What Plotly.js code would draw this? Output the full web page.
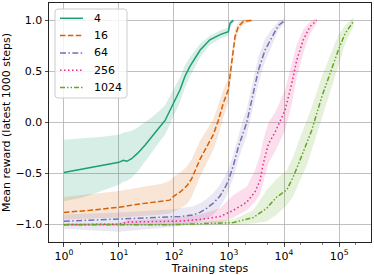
<!DOCTYPE html>
<html>
<head>
<meta charset="utf-8">
<script src="https://cdn.plot.ly/plotly-3.0.1.min.js"></script>
<style>html,body{margin:0;padding:0;background:#fff;}#chart{width:374px;height:275px;}</style>
</head>
<body>
<div id="chart"></div>
<script>
// Series labels
var seriesNames = ["4", "16", "64", "256", "1024"];

// Series "4"
var x4  = [1, 2, 3, 5, 7, 10, 12, 14, 17, 22, 30, 39, 56, 69, 97, 129, 158, 195, 300, 450, 690, 975, 1040, 1200];
var y4  = [-0.49, -0.46, -0.44, -0.42, -0.41, -0.39, -0.37, -0.38, -0.355, -0.30, -0.22, -0.14, -0.04, 0.02, 0.19, 0.32, 0.45, 0.55, 0.71, 0.81, 0.86, 0.89, 0.97, 1.0];
var hi4 = [-0.17, -0.16, -0.15, -0.14, -0.13, -0.12, -0.10, -0.09, -0.08, -0.05, 0.0, 0.05, 0.12, 0.17, 0.32, 0.44, 0.56, 0.64, 0.77, 0.85, 0.90, 0.93, 0.99, 1.02];
var lo4 = [-0.77, -0.74, -0.71, -0.67, -0.64, -0.61, -0.58, -0.57, -0.54, -0.48, -0.38, -0.30, -0.18, -0.12, 0.05, 0.20, 0.34, 0.45, 0.64, 0.76, 0.82, 0.85, 0.93, 0.98];

// Series "16"
var x16  = [1, 3, 10, 22, 60, 84, 100, 130, 172, 210, 297, 518, 640, 790, 970, 1040, 1120, 1285, 1480, 1820, 2590];
var y16  = [-0.88, -0.86, -0.83, -0.80, -0.77, -0.76, -0.72, -0.68, -0.62, -0.55, -0.36, -0.12, 0.02, 0.19, 0.32, 0.45, 0.61, 0.84, 0.94, 0.99, 1.0];
var hi16 = [-0.73, -0.70, -0.67, -0.64, -0.60, -0.57, -0.53, -0.49, -0.43, -0.36, -0.18, 0.03, 0.17, 0.32, 0.43, 0.55, 0.70, 0.90, 0.98, 1.01, 1.01];
var lo16 = [-0.95, -0.94, -0.93, -0.92, -0.90, -0.89, -0.87, -0.84, -0.80, -0.73, -0.53, -0.27, -0.13, 0.05, 0.20, 0.34, 0.50, 0.76, 0.89, 0.96, 0.99];

// Series "64"
var x64  = [1, 10, 100, 130, 224, 297, 393, 518, 686, 880, 1000, 1200, 1480, 1820, 2100, 2590, 3410, 4520, 5560, 7880, 10430];
var y64  = [-0.967, -0.948, -0.925, -0.92, -0.905, -0.88, -0.84, -0.79, -0.72, -0.62, -0.55, -0.42, -0.24, -0.09, 0.0, 0.22, 0.51, 0.71, 0.80, 0.95, 1.0];
var hi64 = [-0.90, -0.88, -0.85, -0.84, -0.82, -0.79, -0.75, -0.69, -0.61, -0.51, -0.44, -0.31, -0.12, 0.04, 0.13, 0.36, 0.64, 0.82, 0.89, 0.99, 1.02];
var lo64 = [-1.04, -1.07, -1.02, -1.01, -0.99, -0.97, -0.94, -0.90, -0.83, -0.73, -0.66, -0.54, -0.36, -0.22, -0.13, 0.08, 0.38, 0.60, 0.71, 0.90, 0.98];

// Series "256"
var x256  = [1, 10, 15, 100, 130, 297, 686, 1200, 2100, 2960, 3660, 4200, 5200, 6940, 10430, 13800, 17000, 22400, 29700, 39300];
var y256  = [-1.0, -0.995, -0.975, -0.97, -0.965, -0.95, -0.92, -0.86, -0.78, -0.68, -0.57, -0.40, -0.21, -0.09, 0.12, 0.38, 0.61, 0.81, 0.94, 1.0];
var hi256 = [-0.99, -0.985, -0.955, -0.94, -0.93, -0.90, -0.84, -0.71, -0.63, -0.47, -0.32, -0.17, 0.0, 0.10, 0.32, 0.56, 0.76, 0.91, 0.99, 1.02];
var lo256 = [-1.01, -1.005, -0.995, -0.995, -0.99, -0.98, -0.99, -0.93, -0.86, -0.78, -0.70, -0.60, -0.40, -0.28, -0.08, 0.18, 0.44, 0.68, 0.87, 0.97];

// Series "1024"
var x1024  = [1, 100, 1200, 2770, 4840, 7370, 11200, 14760, 19500, 25900, 31900, 48400, 68600, 97100, 128500, 182000];
var y1024  = [-1.0, -1.0, -0.98, -0.93, -0.84, -0.73, -0.66, -0.53, -0.37, -0.21, -0.075, 0.25, 0.48, 0.71, 0.87, 0.99];
var hi1024 = [-0.99, -0.99, -0.95, -0.86, -0.66, -0.55, -0.47, -0.33, -0.15, 0.02, 0.15, 0.45, 0.66, 0.86, 0.95, 1.03];
var lo1024 = [-1.01, -1.01, -1.0, -0.99, -0.97, -0.90, -0.81, -0.72, -0.57, -0.42, -0.28, 0.05, 0.29, 0.55, 0.77, 0.94];

// Axis ticks
var xTickVals = [1, 10, 100, 1000, 10000, 100000];
var xTickText = ["10<sup>0</sup>", "10<sup>1</sup>", "10<sup>2</sup>", "10<sup>3</sup>", "10<sup>4</sup>", "10<sup>5</sup>"];
var yTickVals = [-1.0, -0.5, 0.0, 0.5, 1.0];
var yTickText = ["\u22121.0", "\u22120.5", "0.0", "0.5", "1.0"];

var colors = ["#1b9e77", "#d95f02", "#7570b3", "#e7298a", "#66a61e"];
var fills = ["rgba(27,158,119,0.18)", "rgba(217,95,2,0.16)", "rgba(117,112,179,0.16)", "rgba(231,41,138,0.16)", "rgba(102,166,30,0.16)"];
var dashes = ["solid", "5.5px,2.4px", "6px,2.4px,1.5px,2.4px", "1.5px,2.5px", "5px,2px,1.5px,2px,1.5px,2px"];

var xs = [x4, x16, x64, x256, x1024];
var ys = [y4, y16, y64, y256, y1024];
var his = [hi4, hi16, hi64, hi256, hi1024];
var los = [lo4, lo16, lo64, lo256, lo1024];

var traces = [];
for (var i = 0; i < 5; i++) {
  var bx = xs[i].concat(xs[i].slice().reverse());
  var by = his[i].concat(los[i].slice().reverse());
  traces.push({
    x: bx, y: by, type: "scatter", mode: "lines", fill: "toself",
    fillcolor: fills[i], line: {width: 0, color: fills[i]},
    hoverinfo: "skip", showlegend: false
  });
}
for (var j = 0; j < 5; j++) {
  traces.push({
    x: xs[j], y: ys[j], type: "scatter", mode: "lines", name: seriesNames[j],
    line: {color: colors[j], width: 1.5, dash: dashes[j]}, showlegend: false
  });
}

// Plot-area geometry (pixels) for the hand-built legend
var W = 374, H = 275, ML = 49, MR = 3, MT = 3, MB = 33;
var PW = W - ML - MR, PH = H - MT - MB;
function px(x) { return (x - ML) / PW; }
function py(y) { return 1 - (y - MT) / PH; }

var shapes = [];
var annotations = [];
// legend frame with rounded corners
var bx0 = 55, bx1 = 127, by0 = 9, by1 = 98, r = 3;
var rx = r / PW, ry = r / PH;
var p = "M" + (px(bx0) + rx) + "," + py(by0) +
  " L" + (px(bx1) - rx) + "," + py(by0) +
  " Q" + px(bx1) + "," + py(by0) + " " + px(bx1) + "," + (py(by0) - ry) +
  " L" + px(bx1) + "," + (py(by1) + ry) +
  " Q" + px(bx1) + "," + py(by1) + " " + (px(bx1) - rx) + "," + py(by1) +
  " L" + (px(bx0) + rx) + "," + py(by1) +
  " Q" + px(bx0) + "," + py(by1) + " " + px(bx0) + "," + (py(by1) + ry) +
  " L" + px(bx0) + "," + (py(by0) - ry) +
  " Q" + px(bx0) + "," + py(by0) + " " + (px(bx0) + rx) + "," + py(by0) + " Z";
shapes.push({type: "path", xref: "paper", yref: "paper", path: p,
  fillcolor: "rgba(255,255,255,0.8)", line: {color: "#cccccc", width: 1}, layer: "above"});
for (var k = 0; k < 5; k++) {
  var ly = 18.3 + 17.3 * k;
  shapes.push({type: "line", xref: "paper", yref: "paper",
    x0: px(60), x1: px(83), y0: py(ly), y1: py(ly),
    line: {color: colors[k], width: 1.5, dash: dashes[k]}, layer: "above"});
  annotations.push({xref: "paper", yref: "paper", x: px(92), y: py(ly),
    xanchor: "left", yanchor: "middle", showarrow: false, text: seriesNames[k],
    font: {family: "DejaVu Sans", size: 11, color: "#000"}});
}

var axisCommon = {
  showline: true, mirror: true, linecolor: "#222", linewidth: 1,
  ticks: "outside", ticklen: 3.5, tickwidth: 0.8, tickcolor: "#222",
  showgrid: true, gridcolor: "#b0b0b0", gridwidth: 0.8,
  zeroline: false,
  tickfont: {family: "DejaVu Sans", size: 11, color: "#000"}
};

var layout = {
  width: W, height: H,
  margin: {l: ML, r: MR, t: MT, b: MB},
  paper_bgcolor: "#fff", plot_bgcolor: "#fff",
  font: {family: "DejaVu Sans", size: 11, color: "#000"},
  xaxis: Object.assign({}, axisCommon, {
    type: "log", range: [-0.27, 5.58],
    tickmode: "array", tickvals: xTickVals, ticktext: xTickText,
    minor: {ticks: "outside", ticklen: 2, tickwidth: 0.6, tickcolor: "#222", showgrid: false},
    title: {text: "Training steps", font: {family: "DejaVu Sans", size: 11}, standoff: 1}
  }),
  yaxis: Object.assign({}, axisCommon, {
    range: [-1.17, 1.17],
    tickmode: "array", tickvals: yTickVals, ticktext: yTickText,
    title: {text: "Mean reward (latest 1000 steps)", font: {family: "DejaVu Sans", size: 11}, standoff: 4}
  }),
  shapes: shapes,
  annotations: annotations,
  showlegend: false
};

Plotly.newPlot("chart", traces, layout, {displayModeBar: false, staticPlot: true});
</script>
</body>
</html>
